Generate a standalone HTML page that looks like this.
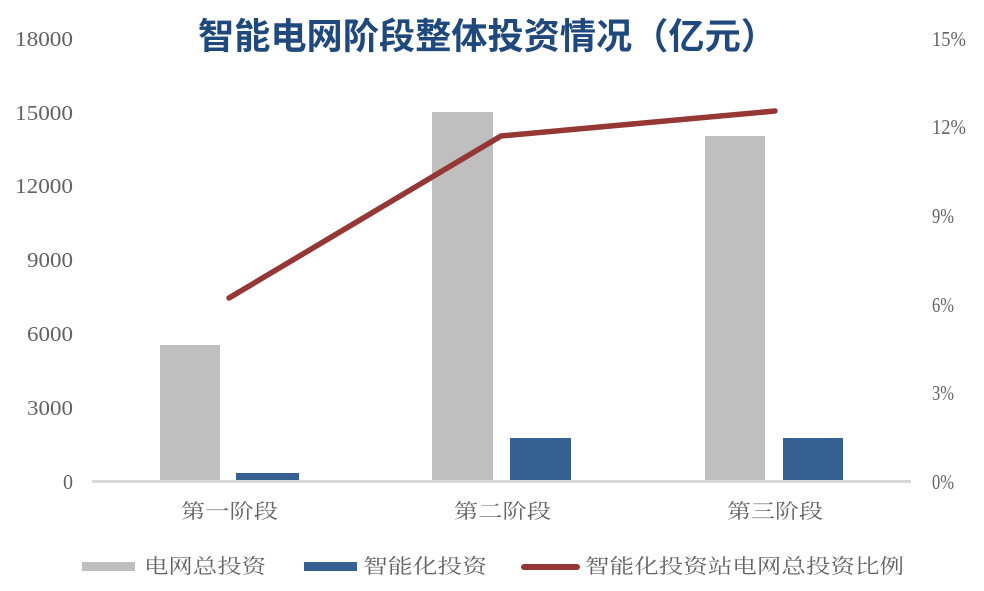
<!DOCTYPE html>
<html>
<head>
<meta charset="utf-8">
<style>
  html,body{margin:0;padding:0;background:#fff;}
  svg{display:block;}
  .num{font-family:"Liberation Serif",serif;font-size:21px;fill:#636363;}
  .cjk{font-family:"Liberation Serif","Noto Serif CJK SC",serif;font-size:20px;fill:#636363;}
  .title{font-family:"Liberation Sans","Noto Sans CJK SC",sans-serif;font-size:36px;font-weight:bold;fill:#1f497d;}
</style>
</head>
<body>
<svg width="984" height="591" viewBox="0 0 984 591" xmlns="http://www.w3.org/2000/svg">
  <rect width="984" height="591" fill="#fff"/>

  <!-- Title -->
  <text class="title" x="198" y="36" dominant-baseline="central" textLength="579" lengthAdjust="spacingAndGlyphs">智能电网阶段整体投资情况（亿元）</text>

  <!-- Left axis labels -->
  <g class="num" text-anchor="end" dominant-baseline="central">
    <text x="73" y="39" textLength="58" lengthAdjust="spacingAndGlyphs">18000</text>
    <text x="73" y="113" textLength="58" lengthAdjust="spacingAndGlyphs">15000</text>
    <text x="73" y="186" textLength="58" lengthAdjust="spacingAndGlyphs">12000</text>
    <text x="73" y="260" textLength="46" lengthAdjust="spacingAndGlyphs">9000</text>
    <text x="73" y="334" textLength="46" lengthAdjust="spacingAndGlyphs">6000</text>
    <text x="73" y="408" textLength="46" lengthAdjust="spacingAndGlyphs">3000</text>
    <text x="73" y="482" textLength="10" lengthAdjust="spacingAndGlyphs">0</text>
  </g>

  <!-- Right axis labels -->
  <g class="num" text-anchor="start" dominant-baseline="central">
    <text x="932" y="39" textLength="34" lengthAdjust="spacingAndGlyphs">15%</text>
    <text x="932" y="127" textLength="34" lengthAdjust="spacingAndGlyphs">12%</text>
    <text x="932" y="216" textLength="22" lengthAdjust="spacingAndGlyphs">9%</text>
    <text x="932" y="305" textLength="22" lengthAdjust="spacingAndGlyphs">6%</text>
    <text x="932" y="393" textLength="22" lengthAdjust="spacingAndGlyphs">3%</text>
    <text x="932" y="482" textLength="22" lengthAdjust="spacingAndGlyphs">0%</text>
  </g>

  <!-- Bars -->
  <g fill="#bfbfbf">
    <rect x="160" y="345" width="60" height="136"/>
    <rect x="432" y="112" width="61" height="369"/>
    <rect x="705" y="136" width="60" height="345"/>
  </g>
  <g fill="#366092">
    <rect x="236" y="473" width="63" height="8"/>
    <rect x="510" y="438" width="61" height="43"/>
    <rect x="783" y="438" width="60" height="43"/>
  </g>

  <!-- Baseline -->
  <rect x="92" y="480" width="819" height="3" fill="#d9d9d9"/>

  <!-- Line -->
  <polyline points="229,298 501,136 775,111" fill="none" stroke="#953735" stroke-width="5.5" stroke-linecap="round" stroke-linejoin="round"/>

  <!-- Category labels -->
  <g class="cjk" dominant-baseline="central">
    <text x="181" y="512" textLength="97" lengthAdjust="spacingAndGlyphs">第一阶段</text>
    <text x="454" y="512" textLength="97" lengthAdjust="spacingAndGlyphs">第二阶段</text>
    <text x="727" y="512" textLength="96" lengthAdjust="spacingAndGlyphs">第三阶段</text>
  </g>

  <!-- Legend -->
  <rect x="82" y="562" width="53" height="9" fill="#bfbfbf"/>
  <text class="cjk" x="144" y="567" dominant-baseline="central" textLength="122" lengthAdjust="spacingAndGlyphs">电网总投资</text>
  <rect x="304" y="562" width="53" height="9" fill="#366092"/>
  <text class="cjk" x="363" y="567" dominant-baseline="central" textLength="124" lengthAdjust="spacingAndGlyphs">智能化投资</text>
  <line x1="524" y1="567" x2="577" y2="567" stroke="#953735" stroke-width="6" stroke-linecap="round"/>
  <text class="cjk" x="585" y="567" dominant-baseline="central" textLength="319" lengthAdjust="spacingAndGlyphs">智能化投资站电网总投资比例</text>
</svg>
</body>
</html>
